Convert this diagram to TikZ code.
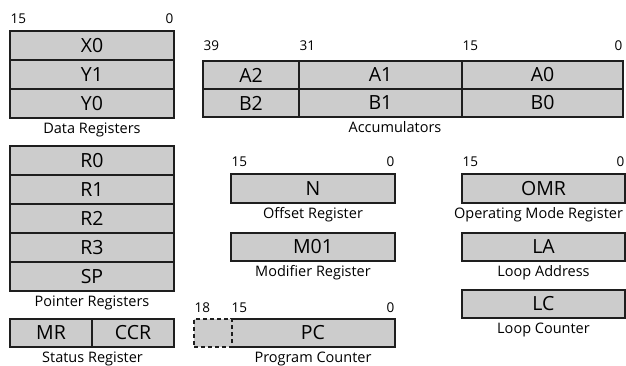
\documentclass[tikz,border=0pt]{standalone}
\usepackage{fontspec}
\setmainfont{Open Sans}
\usetikzlibrary{positioning}
\definecolor{regfill}{RGB}{204,204,204}
\definecolor{ink}{RGB}{30,30,30}
\tikzset{
  reg/.style={draw=ink,fill=regfill,line width=1.1pt,minimum width=#1,
    minimum height=29pt,inner sep=0pt,font=\fontsize{19.5}{19.5}\selectfont},
  reg/.default=164pt,
  ghost/.style={reg=38pt,dash pattern=on 4pt off 3pt,minimum height=28pt},
  bit/.style={inner sep=0pt,font=\fontsize{13.5}{13.5}\selectfont},
  regcap/.style={inner sep=0pt,anchor=base,font=\fontsize{14.5}{14.5}\selectfont},
}

\begin{document}
\begin{tikzpicture}[x=1pt,y=-1pt]
  \useasboundingbox (0,0) rectangle (626,366);
  % data registers
  \foreach \r [count=\i from 0] in {X0,Y1,Y0}
    \node[reg] (d\i) at (92,45.5+29*\i) {\r};
  \node[bit,anchor=base west] at ([xshift=1pt,yshift=7pt]d0.north west) {15};
  \node[bit,anchor=base east] at ([xshift=-1pt,yshift=7pt]d0.north east) {0};
  \node[regcap] at ([yshift=-15pt]d2.south) {Data Registers};
  % accumulators
  \foreach \n/\x/\w in {2/251/96,1/380.5/163,0/542.5/161} {
    \node[reg=\w pt,minimum height=28pt] (a\n) at (\x,75) {A\n};
    \node[reg=\w pt,minimum height=28pt] (b\n) at (\x,103) {B\n};
  }
  \node[bit,anchor=base west] at ([xshift=1pt,yshift=10pt]a2.north west) {39};
  \node[bit,anchor=base west] at ([xshift=1pt,yshift=10pt]a1.north west) {31};
  \node[bit,anchor=base west] at ([xshift=1pt,yshift=10pt]a0.north west) {15};
  \node[bit,anchor=base east] at ([xshift=-1pt,yshift=10pt]a0.north east) {0};
  \node[regcap] at (395,133) {Accumulators};
  % pointer registers
  \foreach \r [count=\i from 0] in {R0,R1,R2,R3,SP}
    \node[reg] (p\i) at (92,160.5+29*\i) {\r};
  \node[regcap] at ([yshift=-15pt]p4.south) {Pointer Registers};
  % status register
  \node[reg=82pt,minimum height=28pt] (mr) at (51,333) {MR};
  \node[reg=82pt,minimum height=28pt] (ccr) at (133,333) {CCR};
  \node[regcap] at ([yshift=-15pt]mr.south east) {Status Register};
  % offset / modifier
  \node[reg] (n) at (313,188.5) {N};
  \node[bit,anchor=base west] at ([xshift=1pt,yshift=7pt]n.north west) {15};
  \node[bit,anchor=base east] at ([xshift=-1pt,yshift=7pt]n.north east) {0};
  \node[regcap] at ([yshift=-15pt]n.south) {Offset Register};
  \node[reg,minimum height=28pt] (m01) at (313,247) {M01};
  \node[regcap] at ([yshift=-15pt]m01.south) {Modifier Register};
  % program counter
  \node[reg,minimum height=28pt] (pc) at (313,333) {PC};
  \node[ghost] (ext) at (213,333) {};
  \node[bit,anchor=base west] at ([xshift=1pt,yshift=6pt]ext.north west) {18};
  \node[bit,anchor=base west] at ([xshift=1pt,yshift=6pt]pc.north west) {15};
  \node[bit,anchor=base east] at ([xshift=-1pt,yshift=6pt]pc.north east) {0};
  \node[regcap] at ([yshift=-15pt]pc.south) {Program Counter};
  % mode and loop registers
  \node[reg=163pt] (omr) at (543.5,188.5) {OMR};
  \node[bit,anchor=base west] at ([xshift=1pt,yshift=7pt]omr.north west) {15};
  \node[bit,anchor=base east] at ([xshift=-1pt,yshift=7pt]omr.north east) {0};
  \node[regcap] at ([xshift=-5pt,yshift=-15pt]omr.south) {Operating Mode Register};
  \node[reg=163pt,minimum height=28pt] (la) at (543.5,247) {LA};
  \node[regcap] at ([yshift=-15pt]la.south) {Loop Address};
  \node[reg=163pt,minimum height=28pt] (lc) at (543.5,304) {LC};
  \node[regcap] at ([yshift=-15pt]lc.south) {Loop Counter};
\end{tikzpicture}
\end{document}
